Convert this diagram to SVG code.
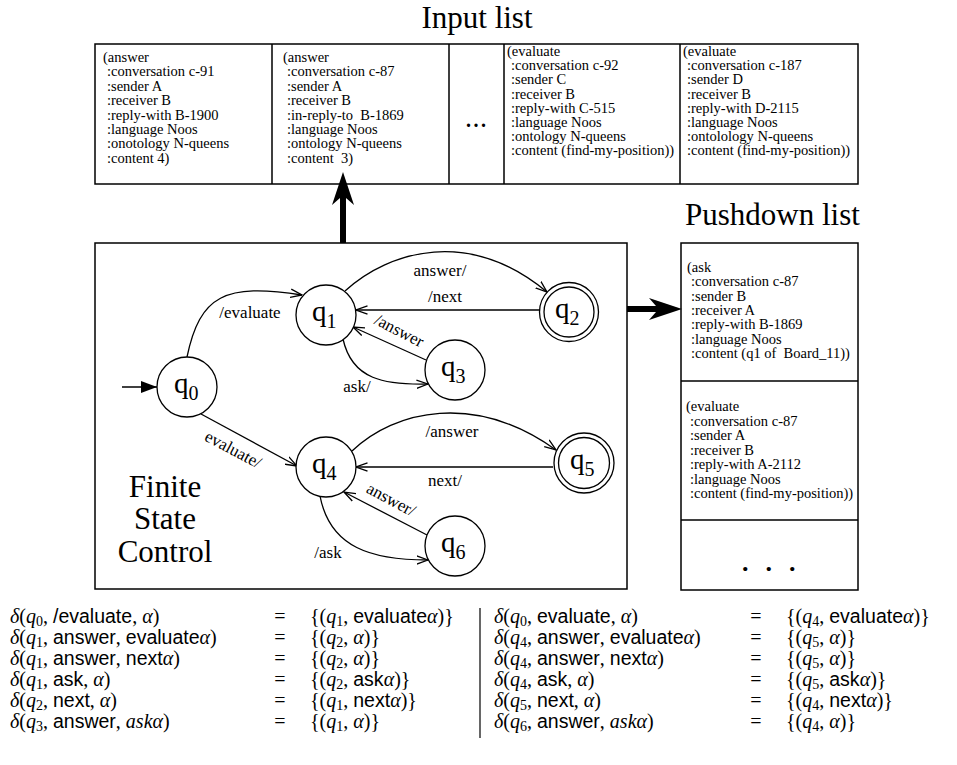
<svg xmlns="http://www.w3.org/2000/svg" width="957" height="765" viewBox="0 0 957 765">
<defs>
<style>
.box{fill:none;stroke:#000;stroke-width:1.5}
.t{font-family:"Liberation Serif",serif;font-size:14.5px;white-space:pre}
.title{font-family:"Liberation Serif",serif;font-size:31px}
.lbl{font-family:"Liberation Serif",serif;font-size:17px}
.st circle{fill:#fff;stroke:#000;stroke-width:1.3}
.q{font-family:"Liberation Serif",serif;font-size:29px}
.qs{font-size:20px}
.edge{fill:none;stroke:#000;stroke-width:1.3;marker-end:url(#open)}
.eq{font-family:"Liberation Serif",serif;font-size:20px;white-space:pre}
.mi{font-style:italic}
.sb{font-size:14px}
.sf{font-family:"Liberation Sans",sans-serif;font-size:19.5px}
</style>
<marker id="open" viewBox="0 0 12 10" refX="11.5" refY="5" markerWidth="12" markerHeight="10" markerUnits="userSpaceOnUse" orient="auto"><path d="M0,0.8 L11.5,5 L0,9.2" fill="none" stroke="#000" stroke-width="1.3"/></marker>
<marker id="solid" viewBox="0 0 16 12" refX="16" refY="6" markerWidth="16" markerHeight="12" markerUnits="userSpaceOnUse" orient="auto"><path d="M0,0 L16,6 L0,12 Z" fill="#000"/></marker>
</defs>
<rect width="957" height="765" fill="#fff"/>

<text class="title" x="477" y="28" text-anchor="middle">Input list</text>
<text class="title" x="685" y="225">Pushdown list</text>

<g id="input-list">
<rect class="box" x="95" y="44" width="763" height="140"/>
<path d="M272,44V184M449,44V184M504,44V184M680,44V184" stroke="#000" stroke-width="1.5"/>
<text class="t" x="103" y="62"><tspan>(answer</tspan><tspan x="107" dy="14.4">:conversation c-91</tspan><tspan x="107" dy="14.4">:sender A</tspan><tspan x="107" dy="14.4">:receiver B</tspan><tspan x="107" dy="14.4">:reply-with B-1900</tspan><tspan x="107" dy="14.4">:language Noos</tspan><tspan x="107" dy="14.4">:onotology N-queens</tspan><tspan x="107" dy="14.4">:content 4)</tspan></text>
<text class="t" x="283" y="62"><tspan>(answer</tspan><tspan x="287" dy="14.4">:conversation c-87</tspan><tspan x="287" dy="14.4">:sender A</tspan><tspan x="287" dy="14.4">:receiver B</tspan><tspan x="287" dy="14.4">:in-reply-to  B-1869</tspan><tspan x="287" dy="14.4">:language Noos</tspan><tspan x="287" dy="14.4">:ontology N-queens</tspan><tspan x="287" dy="14.4">:content  3)</tspan></text>
<text class="t" x="466 473.5 481" y="127" style="font-size:20px;font-weight:bold">...</text>
<text class="t" x="507" y="56"><tspan>(evaluate</tspan><tspan x="511" dy="14.2">:conversation c-92</tspan><tspan x="511" dy="14.2">:sender C</tspan><tspan x="511" dy="14.2">:receiver B</tspan><tspan x="511" dy="14.2">:reply-with C-515</tspan><tspan x="511" dy="14.2">:language Noos</tspan><tspan x="511" dy="14.2">:ontology N-queens</tspan><tspan x="511" dy="14.2">:content (find-my-position))</tspan></text>
<text class="t" x="683" y="56"><tspan>(evaluate</tspan><tspan x="687" dy="14.2">:conversation c-187</tspan><tspan x="687" dy="14.2">:sender D</tspan><tspan x="687" dy="14.2">:receiver B</tspan><tspan x="687" dy="14.2">:reply-with D-2115</tspan><tspan x="687" dy="14.2">:language Noos</tspan><tspan x="687" dy="14.2">:ontolology N-queens</tspan><tspan x="687" dy="14.2">:content (find-my-position))</tspan></text>
</g>

<g id="pushdown-list">
<rect class="box" x="681" y="243" width="177" height="347"/>
<path d="M681,381H858M681,520H858" stroke="#000" stroke-width="1.5"/>
<text class="t" x="687" y="272"><tspan>(ask</tspan><tspan x="691" dy="14.3">:conversation c-87</tspan><tspan x="691" dy="14.3">:sender B</tspan><tspan x="691" dy="14.3">:receiver A</tspan><tspan x="691" dy="14.3">:reply-with B-1869</tspan><tspan x="691" dy="14.3">:language Noos</tspan><tspan x="691" dy="14.3">:content (q1 of  Board_11))</tspan></text>
<text class="t" x="686" y="411"><tspan>(evaluate</tspan><tspan x="690" dy="14.5">:conversation c-87</tspan><tspan x="690" dy="14.5">:sender A</tspan><tspan x="690" dy="14.5">:receiver B</tspan><tspan x="690" dy="14.5">:reply-with A-2112</tspan><tspan x="690" dy="14.5">:language Noos</tspan><tspan x="690" dy="14.5">:content (find-my-position))</tspan></text>
<text class="t" x="742 765.5 789" y="571" style="font-size:26px;font-weight:bold">...</text>
</g>

<g id="finite-state-control">
<rect class="box" x="95" y="243" width="532" height="346"/>
<text class="title" x="165" text-anchor="middle"><tspan x="165" y="497">Finite</tspan><tspan x="165" y="529">State</tspan><tspan x="165" y="562">Control</tspan></text>
</g>

<g id="connectors">
<path d="M340,243V198L332,205L343,172L354,205L346,198V243Z" fill="#000"/>
<path d="M627,306H656L649,298L682,309L649,320L656,312H627Z" fill="#000"/>
<path d="M122,387H157" stroke="#000" stroke-width="1.3" marker-end="url(#solid)"/>
<path class="edge" d="M187,357C200,295 225,283 302,295"/>
<path class="edge" d="M345,291C390,250 470,228 547,292"/>
<path class="edge" d="M540,310H356"/>
<path class="edge" d="M426,360L353,327"/>
<path class="edge" d="M343,339C352,380 385,385 428,384"/>
<path class="edge" d="M201,414L297,466"/>
<path class="edge" d="M352,451C395,410 475,392 556,450"/>
<path class="edge" d="M553,467H356"/>
<path class="edge" d="M427,535L344,492"/>
<path class="edge" d="M320,496C330,548 372,560 428,560"/>
<text class="lbl" x="250" y="318" text-anchor="middle">/evaluate</text>
<text class="lbl" x="440" y="276" text-anchor="middle">answer/</text>
<text class="lbl" x="445" y="302" text-anchor="middle">/next</text>
<text class="lbl" transform="translate(399,331) rotate(27)" y="5" text-anchor="middle">/answer</text>
<text class="lbl" x="357" y="392" text-anchor="middle">ask/</text>
<text class="lbl" transform="translate(233,450) rotate(28)" y="5" text-anchor="middle">evaluate/</text>
<text class="lbl" x="452" y="437" text-anchor="middle">/answer</text>
<text class="lbl" x="445" y="486" text-anchor="middle">next/</text>
<text class="lbl" transform="translate(391,500) rotate(28)" y="5" text-anchor="middle">answer/</text>
<text class="lbl" x="328" y="558" text-anchor="middle">/ask</text>
</g>

<g id="q0" class="st"><circle cx="187" cy="387" r="30"/><text class="q" x="174" y="393">q<tspan class="qs" dy="7">0</tspan></text></g>
<g id="q1" class="st"><circle cx="326" cy="315" r="30"/><text class="q" x="312" y="321">q<tspan class="qs" dy="7">1</tspan></text></g>
<g id="q2" class="st"><circle cx="569" cy="312" r="29.5"/><circle cx="569" cy="312" r="25"/><text class="q" x="555" y="318">q<tspan class="qs" dy="7">2</tspan></text></g>
<g id="q3" class="st"><circle cx="455" cy="370" r="30"/><text class="q" x="441" y="376">q<tspan class="qs" dy="7">3</tspan></text></g>
<g id="q4" class="st"><circle cx="326" cy="467" r="30"/><text class="q" x="312" y="473">q<tspan class="qs" dy="7">4</tspan></text></g>
<g id="q5" class="st"><circle cx="584" cy="463" r="30"/><circle cx="584" cy="463" r="25.5"/><text class="q" x="570" y="469">q<tspan class="qs" dy="7">5</tspan></text></g>
<g id="q6" class="st"><circle cx="455" cy="546" r="30"/><text class="q" x="441" y="552">q<tspan class="qs" dy="7">6</tspan></text></g>

<g id="equations">
<path d="M480,608V738" stroke="#000" stroke-width="1.2"/>
<text class="eq" x="10" y="623"><tspan class="mi">δ</tspan>(<tspan class="mi">q</tspan><tspan class="sb" dy="3">0</tspan><tspan dy="-3">, </tspan><tspan class="sf">/evaluate</tspan>, <tspan class="mi">α</tspan>)</text>
<text class="eq" x="10" y="644"><tspan class="mi">δ</tspan>(<tspan class="mi">q</tspan><tspan class="sb" dy="3">1</tspan><tspan dy="-3">, </tspan><tspan class="sf">answer</tspan>, <tspan class="sf">evaluate</tspan><tspan class="mi">α</tspan>)</text>
<text class="eq" x="10" y="665"><tspan class="mi">δ</tspan>(<tspan class="mi">q</tspan><tspan class="sb" dy="3">1</tspan><tspan dy="-3">, </tspan><tspan class="sf">answer</tspan>, <tspan class="sf">next</tspan><tspan class="mi">α</tspan>)</text>
<text class="eq" x="10" y="686"><tspan class="mi">δ</tspan>(<tspan class="mi">q</tspan><tspan class="sb" dy="3">1</tspan><tspan dy="-3">, </tspan><tspan class="sf">ask</tspan>, <tspan class="mi">α</tspan>)</text>
<text class="eq" x="10" y="707"><tspan class="mi">δ</tspan>(<tspan class="mi">q</tspan><tspan class="sb" dy="3">2</tspan><tspan dy="-3">, </tspan><tspan class="sf">next</tspan>, <tspan class="mi">α</tspan>)</text>
<text class="eq" x="10" y="728"><tspan class="mi">δ</tspan>(<tspan class="mi">q</tspan><tspan class="sb" dy="3">3</tspan><tspan dy="-3">, </tspan><tspan class="sf">answer</tspan>, <tspan class="mi">askα</tspan>)</text>
<text class="eq" x="280" y="623" text-anchor="middle">=</text>
<text class="eq" x="280" y="644" text-anchor="middle">=</text>
<text class="eq" x="280" y="665" text-anchor="middle">=</text>
<text class="eq" x="280" y="686" text-anchor="middle">=</text>
<text class="eq" x="280" y="707" text-anchor="middle">=</text>
<text class="eq" x="280" y="728" text-anchor="middle">=</text>
<text class="eq" x="310" y="623">{(<tspan class="mi">q</tspan><tspan class="sb" dy="3">1</tspan><tspan dy="-3">, </tspan><tspan class="sf">evaluate</tspan><tspan class="mi">α</tspan>)}</text>
<text class="eq" x="310" y="644">{(<tspan class="mi">q</tspan><tspan class="sb" dy="3">2</tspan><tspan dy="-3">, </tspan><tspan class="mi">α</tspan>)}</text>
<text class="eq" x="310" y="665">{(<tspan class="mi">q</tspan><tspan class="sb" dy="3">2</tspan><tspan dy="-3">, </tspan><tspan class="mi">α</tspan>)}</text>
<text class="eq" x="310" y="686">{(<tspan class="mi">q</tspan><tspan class="sb" dy="3">2</tspan><tspan dy="-3">, </tspan><tspan class="sf">ask</tspan><tspan class="mi">α</tspan>)}</text>
<text class="eq" x="310" y="707">{(<tspan class="mi">q</tspan><tspan class="sb" dy="3">1</tspan><tspan dy="-3">, </tspan><tspan class="sf">next</tspan><tspan class="mi">α</tspan>)}</text>
<text class="eq" x="310" y="728">{(<tspan class="mi">q</tspan><tspan class="sb" dy="3">1</tspan><tspan dy="-3">, </tspan><tspan class="mi">α</tspan>)}</text>

<text class="eq" x="494" y="623"><tspan class="mi">δ</tspan>(<tspan class="mi">q</tspan><tspan class="sb" dy="3">0</tspan><tspan dy="-3">, </tspan><tspan class="sf">evaluate</tspan>, <tspan class="mi">α</tspan>)</text>
<text class="eq" x="494" y="644"><tspan class="mi">δ</tspan>(<tspan class="mi">q</tspan><tspan class="sb" dy="3">4</tspan><tspan dy="-3">, </tspan><tspan class="sf">answer</tspan>, <tspan class="sf">evaluate</tspan><tspan class="mi">α</tspan>)</text>
<text class="eq" x="494" y="665"><tspan class="mi">δ</tspan>(<tspan class="mi">q</tspan><tspan class="sb" dy="3">4</tspan><tspan dy="-3">, </tspan><tspan class="sf">answer</tspan>, <tspan class="sf">next</tspan><tspan class="mi">α</tspan>)</text>
<text class="eq" x="494" y="686"><tspan class="mi">δ</tspan>(<tspan class="mi">q</tspan><tspan class="sb" dy="3">4</tspan><tspan dy="-3">, </tspan><tspan class="sf">ask</tspan>, <tspan class="mi">α</tspan>)</text>
<text class="eq" x="494" y="707"><tspan class="mi">δ</tspan>(<tspan class="mi">q</tspan><tspan class="sb" dy="3">5</tspan><tspan dy="-3">, </tspan><tspan class="sf">next</tspan>, <tspan class="mi">α</tspan>)</text>
<text class="eq" x="494" y="728"><tspan class="mi">δ</tspan>(<tspan class="mi">q</tspan><tspan class="sb" dy="3">6</tspan><tspan dy="-3">, </tspan><tspan class="sf">answer</tspan>, <tspan class="mi">askα</tspan>)</text>
<text class="eq" x="756" y="623" text-anchor="middle">=</text>
<text class="eq" x="756" y="644" text-anchor="middle">=</text>
<text class="eq" x="756" y="665" text-anchor="middle">=</text>
<text class="eq" x="756" y="686" text-anchor="middle">=</text>
<text class="eq" x="756" y="707" text-anchor="middle">=</text>
<text class="eq" x="756" y="728" text-anchor="middle">=</text>
<text class="eq" x="786" y="623">{(<tspan class="mi">q</tspan><tspan class="sb" dy="3">4</tspan><tspan dy="-3">, </tspan><tspan class="sf">evaluate</tspan><tspan class="mi">α</tspan>)}</text>
<text class="eq" x="786" y="644">{(<tspan class="mi">q</tspan><tspan class="sb" dy="3">5</tspan><tspan dy="-3">, </tspan><tspan class="mi">α</tspan>)}</text>
<text class="eq" x="786" y="665">{(<tspan class="mi">q</tspan><tspan class="sb" dy="3">5</tspan><tspan dy="-3">, </tspan><tspan class="mi">α</tspan>)}</text>
<text class="eq" x="786" y="686">{(<tspan class="mi">q</tspan><tspan class="sb" dy="3">5</tspan><tspan dy="-3">, </tspan><tspan class="sf">ask</tspan><tspan class="mi">α</tspan>)}</text>
<text class="eq" x="786" y="707">{(<tspan class="mi">q</tspan><tspan class="sb" dy="3">4</tspan><tspan dy="-3">, </tspan><tspan class="sf">next</tspan><tspan class="mi">α</tspan>)}</text>
<text class="eq" x="786" y="728">{(<tspan class="mi">q</tspan><tspan class="sb" dy="3">4</tspan><tspan dy="-3">, </tspan><tspan class="mi">α</tspan>)}</text>
</g>
</svg>
